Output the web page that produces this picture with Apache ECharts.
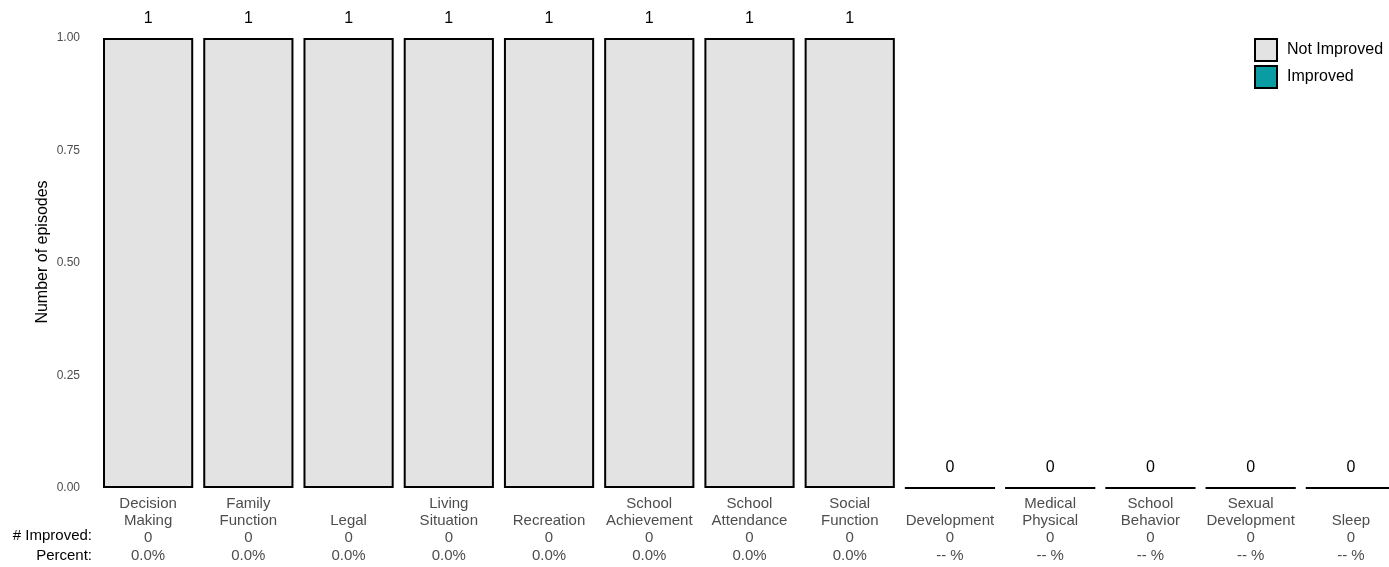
<!DOCTYPE html>
<html>
<head>
<meta charset="utf-8">
<script src="https://cdn.jsdelivr.net/npm/echarts@6/dist/echarts.min.js"></script>
<style>html,body{margin:0;padding:0;background:#fff;}#c{width:1389px;height:567px;}</style>
</head>
<body>
<div id="c"></div>
<script>
const categories = ['Decision\nMaking', 'Family\nFunction', 'Legal', 'Living\nSituation', 'Recreation', 'School\nAchievement', 'School\nAttendance', 'Social\nFunction', 'Development', 'Medical\nPhysical', 'School\nBehavior', 'Sexual\nDevelopment', 'Sleep'];
const notImproved = [1, 1, 1, 1, 1, 1, 1, 1, 0, 0, 0, 0, 0];
const improved = [0, 0, 0, 0, 0, 0, 0, 0, 0, 0, 0, 0, 0];
const totals = [1, 1, 1, 1, 1, 1, 1, 1, 0, 0, 0, 0, 0];
const percentLabels = ['0.0%', '0.0%', '0.0%', '0.0%', '0.0%', '0.0%', '0.0%', '0.0%', '-- %', '-- %', '-- %', '-- %', '-- %'];
const yTicks = [0, 0.25, 0.5, 0.75, 1];

const FONT = '"Liberation Sans", Arial, sans-serif';
const chart = echarts.init(document.getElementById('c'), null, {renderer: 'canvas'});
const catLabels = categories.map((c, i) => {
  const name = c.indexOf('\n') >= 0 ? c : ' \n' + c;
  return name + '\n' + improved[i] + '\n' + percentLabels[i];
});
chart.setOption({
  animation: false,
  textStyle: {fontFamily: FONT},
  grid: {left: 98, top: 38, bottom: 79, width: 1303, outerBoundsMode: 'none', containLabel: false},
  legend: {
    orient: 'vertical', left: 1254, top: 38, padding: 0, itemWidth: 22, itemHeight: 22, itemGap: 3,
    icon: 'rect',
    textStyle: {fontSize: 16, color: '#000', fontFamily: FONT, padding: [0, 0, 0, 5]},
    data: [
      {name: 'Not Improved', itemStyle: {color: '#e3e3e3', borderColor: '#000', borderWidth: 2}},
      {name: 'Improved', itemStyle: {color: '#0a9ca3', borderColor: '#000', borderWidth: 2}}
    ]
  },
  xAxis: {
    type: 'category', data: catLabels,
    axisLine: {show: false}, axisTick: {show: false},
    axisLabel: {interval: 0, color: '#4d4d4d', fontSize: 15, lineHeight: 17.3, margin: 7, fontFamily: FONT}
  },
  yAxis: {
    type: 'value', min: 0, max: 1, interval: 0.25,
    axisLine: {show: false}, axisTick: {show: false}, splitLine: {show: false},
    axisLabel: {color: '#4d4d4d', fontSize: 12, margin: 18, fontFamily: FONT,
      formatter: v => yTicks.indexOf(v) >= 0 ? v.toFixed(2) : ''}
  },
  series: [
    {
      name: 'Not Improved', type: 'bar', stack: 'a', data: notImproved,
      barCategoryGap: '10%',
      itemStyle: {color: '#e3e3e3', borderColor: '#000', borderWidth: 2},
      label: {show: true, position: 'top', distance: 11, fontSize: 16, color: '#000', fontFamily: FONT,
        formatter: p => String(totals[p.dataIndex])}
    },
    {
      name: 'Improved', type: 'bar', stack: 'a', data: improved.map(v => v > 0 ? v : '-'),
      itemStyle: {color: '#0a9ca3', borderColor: '#000', borderWidth: 2}
    }
  ],
  graphic: [
    {type: 'text', x: 43, y: 252, rotation: Math.PI / 2, style: {text: 'Number of episodes', font: '16px ' + FONT, fill: '#000', align: 'center', verticalAlign: 'middle'}},
    {type: 'text', x: 92, y: 536, style: {text: '# Improved:', font: '15px ' + FONT, fill: '#000', align: 'right', verticalAlign: 'middle'}},
    {type: 'text', x: 92, y: 556, style: {text: 'Percent:', font: '15px ' + FONT, fill: '#000', align: 'right', verticalAlign: 'middle'}}
  ]
});
</script>
</body>
</html>
